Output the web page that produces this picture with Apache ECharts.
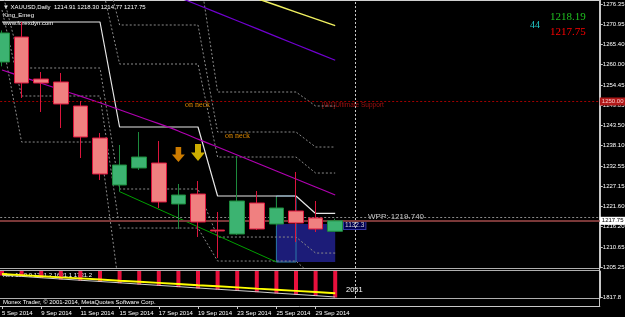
<!DOCTYPE html>
<html><head><meta charset="utf-8">
<script src="https://cdn.jsdelivr.net/npm/echarts@6/dist/echarts.min.js"></script>
<style>html,body{margin:0;padding:0;background:#000;}#c{width:625px;height:317px;}</style>
</head><body><div id="c"></div>
<script>
// ---- data ----
const dates = ['5 Sep 2014','8 Sep 2014','9 Sep 2014','10 Sep 2014','11 Sep 2014','12 Sep 2014','15 Sep 2014','16 Sep 2014','17 Sep 2014','18 Sep 2014','19 Sep 2014','22 Sep 2014','23 Sep 2014','24 Sep 2014','25 Sep 2014','26 Sep 2014','29 Sep 2014','30 Sep 2014'];
const futureSlots = 13;
const opens  = [1260.67,1267.43,1256.08,1255.27,1248.78,1240.13,1227.43,1232.02,1233.37,1222.29,1224.99,1215.26,1214.18,1222.56,1216.88,1220.40,1218.51,1214.91];
const closes = [1268.51,1254.99,1254.99,1249.32,1240.40,1230.40,1232.83,1234.99,1222.83,1224.72,1217.42,1214.99,1223.10,1215.53,1221.21,1217.16,1215.53,1217.75];
const lows   = [1259.50,1250.94,1247.16,1242.83,1234.72,1228.78,1225.63,1231.48,1221.21,1215.53,1213.37,1207.70,1213.91,1215.26,1216.35,1212.02,1214.72,1214.77];
const highs  = [1269.20,1271.48,1257.97,1257.70,1250.13,1241.48,1238.24,1241.75,1239.32,1227.70,1228.51,1220.13,1235.26,1225.80,1224.18,1230.94,1223.10,1218.30];
const priceTicks = [1205.25,1210.65,1216.20,1221.60,1227.15,1232.55,1238.10,1243.50,1249.05,1254.45,1260.00,1265.40,1270.95,1276.35];
// weekly pivot levels per bar
const pivotP  = [1271.48,1271.48,1271.48,1271.48,1271.48,1271.48,1243.10,1243.10,1243.10,1243.10,1243.10,1224.45,1224.45,1224.45,1224.45,1224.45,1219.74,1219.74];
const pivotR1 = [null,1283.92,1283.92,1283.92,1283.92,1283.92,1260.13,1260.13,1260.13,1260.13,1260.13,1234.99,1234.99,1234.99,1234.99,1234.99,1230.66,1230.66];
const pivotR2 = [null,1291.49,1291.49,1291.49,1291.49,1291.49,1270.67,1270.67,1270.67,1270.67,1270.67,1241.75,1241.75,1241.75,1241.75,1241.75,1237.69,1237.69];
const pivotR3 = [null,1303.92,1303.92,1303.92,1303.92,1303.92,1287.70,1287.70,1287.70,1287.70,1287.70,1252.56,1252.56,1252.56,1252.56,1252.56,1248.78,1248.78];
const pivotS1 = [1279.86,1259.05,1259.05,1259.05,1259.05,1259.05,1226.34,1226.34,1226.34,1226.34,1226.34,1213.36,1213.36,1213.36,1213.36,1213.36,1209.03,1209.03];
const pivotS2 = [1274.73,1251.48,1251.48,1251.48,1251.48,1251.48,1215.79,1215.79,1215.79,1215.79,1215.79,1206.87,1206.87,1206.87,1206.87,1206.87,1202.01,1202.01];
const pivotS3 = [1266.89,1239.04,1239.04,1239.04,1239.04,1239.04,1198.49,1198.49,1198.49,1198.49,1198.49,1196.87,1196.87,1196.87,1196.87,1196.87,1190.92,1190.92];
const maMagenta = [1258.51,1256.73,1254.94,1253.16,1251.43,1249.65,1247.76,1245.87,1244.00,1242.03,1239.81,1237.71,1235.54,1233.38,1231.22,1229.06,1226.90,1224.74];
const linePurple = [null,null,null,null,null,null,null,null,null,1278.20,1276.08,1273.94,1271.81,1269.68,1267.54,1265.40,1263.27,1261.13];
const lineYellow = [null,null,null,null,null,null,null,null,null,null,null,null,null,1277.84,1276.00,1274.16,1272.32,1270.50];
const trendGreen = [null,null,null,null,null,null,1225.63,null,null,null,null,null,null,null,1206.60,null,null,null];
const boxZone = [[14,17,1216.88,1206.60]];
const boxOutline = [[14,15,1224.45,1206.60]];
const arrowOrange = [[9,1235.66]];
const arrowYellow = [[10,1236.20]];
const ultimateSupport = 1250.00;
const bidPrice = 1217.75;
const askLine = 1218.60;
const separatorBar = 18;
// indicator sub-window
const subYellow = [2750,2705,2660,2615,2575,2530,2480,2440,2395,2350,2300,2260,2215,2165,2120,2075,2030,1978];
const subWhite  = [2706,2655,2600,2550,2500,2450,2400,2345,2295,2245,2190,2140,2090,2040,1985,1935,1885,1830];
const subHist   = [2690,2640,2590,2530,2480,2430,2380,2330,2270,2220,2170,2120,2070,2020,1970,1920,1870,1810];
const subTicks = [1817.8];
const subMin = 1790, subMax = 2870;

// ---- build ----
const cats = dates.concat(Array(futureSlots).fill(''));
const candles = opens.map((o,i)=>[o, closes[i], lows[i], highs[i]]);
const FONT = 'Liberation Sans';
const dotted = (c)=>({color:c, width:1, type:[2,2]});
function pivotSeries(data){
  return {type:'line', xAxisIndex:0, yAxisIndex:0, data, symbol:'none', silent:true, z:3,
    lineStyle: dotted('#8a8a8a'), connectNulls:false, animation:false};
}
const rectRender = (fill, stroke) => (params, api) => {
  const p1 = api.coord([api.value(0), api.value(2)]);
  const p2 = api.coord([api.value(1), api.value(3)]);
  return {type:'rect', shape:{x:p1[0], y:p1[1], width:p2[0]-p1[0], height:p2[1]-p1[1]},
    style:{fill: fill, stroke: stroke, lineWidth: 1}};
};
const showDate = (i, v) => v !== '' && i % 2 === 0;
const chart = echarts.init(document.getElementById('c'), null, {renderer:'canvas'});
const txt = (x,y,t,o)=>Object.assign({type:'text', x, y, silent:true,
  style:Object.assign({text:t, fill:'#ffffff', font:'6px '+FONT, verticalAlign:'middle'}, o||{})});
const ln = (x1,y1,x2,y2,c)=>({type:'line', silent:true, shape:{x1,y1,x2,y2}, style:{stroke:c, lineWidth:1}});
chart.setOption({
  backgroundColor:'#000000',
  animation:false,
  grid:[
    {left:-7.8, right:25.2, top:0, height:268, containLabel:false, outerBoundsMode:'none'},
    {left:-7.8, right:25.2, top:271, height:27, containLabel:false, outerBoundsMode:'none'}
  ],
  xAxis:[
    {type:'category', gridIndex:0, data:cats, boundaryGap:true, show:false},
    {type:'category', gridIndex:1, data:cats, boundaryGap:true, offset:8,
      axisLine:{show:true, lineStyle:{color:'#c8c8c8'}},
      axisTick:{show:true, alignWithLabel:true, interval:showDate, length:3, inside:false, lineStyle:{color:'#c8c8c8'}},
      axisLabel:{interval:showDate, align:'left', margin:4, color:'#ffffff', fontSize:6, fontFamily:FONT}}
  ],
  yAxis:[
    {type:'value', gridIndex:0, position:'right', min:1204.99, max:1277.43, scale:true,
      splitLine:{show:false},
      axisLine:{show:true, lineStyle:{color:'#c8c8c8'}},
      axisTick:{show:true, customValues:priceTicks, length:3, lineStyle:{color:'#c8c8c8'}},
      axisLabel:{customValues:priceTicks, formatter:v=>v.toFixed(2), color:'#ffffff', fontSize:6, fontFamily:FONT, margin:3}},
    {type:'value', gridIndex:1, position:'right', min:subMin, max:subMax, scale:true,
      splitLine:{show:false},
      axisLine:{show:true, lineStyle:{color:'#c8c8c8'}},
      axisTick:{show:true, customValues:subTicks, length:3, lineStyle:{color:'#c8c8c8'}},
      axisLabel:{customValues:subTicks, formatter:v=>v.toFixed(1), color:'#ffffff', fontSize:6, fontFamily:FONT, margin:3}}
  ],
  series:[
    {type:'custom', xAxisIndex:0, yAxisIndex:0, data:boxZone, renderItem:rectRender('#1c1c78', null), z:1, silent:true},
    {type:'custom', xAxisIndex:0, yAxisIndex:0, data:boxOutline, renderItem:rectRender('none', '#2a78a8'), z:2, silent:true},
    pivotSeries(pivotR3), pivotSeries(pivotR2), pivotSeries(pivotR1),
    pivotSeries(pivotS1), pivotSeries(pivotS2), pivotSeries(pivotS3),
    {type:'line', xAxisIndex:0, yAxisIndex:0, data:pivotP, symbol:'none', silent:true, z:4, lineStyle:{color:'#e6e6e6', width:1.2}},
    {type:'line', xAxisIndex:0, yAxisIndex:0, data:maMagenta, symbol:'none', silent:true, z:4, smooth:0.2, lineStyle:{color:'#b000b0', width:1.2}},
    {type:'line', xAxisIndex:0, yAxisIndex:0, data:linePurple, symbol:'none', silent:true, z:4, lineStyle:{color:'#7000d0', width:1.2}},
    {type:'line', xAxisIndex:0, yAxisIndex:0, data:lineYellow, symbol:'none', silent:true, z:4, lineStyle:{color:'#f0f060', width:1.5}},
    {type:'line', xAxisIndex:0, yAxisIndex:0, data:trendGreen, connectNulls:true, symbol:'none', silent:true, z:4, lineStyle:{color:'#00a000', width:1}},
    {type:'candlestick', xAxisIndex:0, yAxisIndex:0, data:candles, barWidth:15, z:6, silent:true,
      itemStyle:{color:'#3cb371', color0:'#f08080', borderColor:'#1c8a3c', borderColor0:'#dc143c', borderWidth:1},
      markLine:{silent:true, symbol:'none', animation:false, data:[
        {yAxis:ultimateSupport, lineStyle:{color:'#a00000', width:1, type:[2,2]},
          label:{show:true, position:'end', distance:0, formatter:'1250.00', backgroundColor:'#b01818', color:'#ffc8c8', fontSize:6, fontFamily:FONT, padding:[1,2]}},
        {yAxis:askLine, lineStyle:{color:'#8a8a8a', width:1, type:[2,2]}, label:{show:false}},
        {yAxis:bidPrice, lineStyle:{color:'#7a3838', width:2, type:'solid'},
          label:{show:true, position:'end', distance:0, formatter:'1217.75', backgroundColor:'#ffffff', color:'#000000', fontSize:6, fontFamily:FONT, padding:[1,2]}},
        {xAxis:separatorBar, lineStyle:{color:'#c8c8c8', width:1, type:[2,2]}, label:{show:false}}
      ]}},
    {type:'scatter', xAxisIndex:0, yAxisIndex:0, data:arrowOrange, symbol:'path://M4,0 L10,0 L10,8 L14,8 L7,16 L0,8 L4,8 Z', symbolSize:[13,15], itemStyle:{color:'#ff9a00'}, z:7, silent:true},
    {type:'scatter', xAxisIndex:0, yAxisIndex:0, data:arrowYellow, symbol:'path://M4,0 L10,0 L10,8 L14,8 L7,16 L0,8 L4,8 Z', symbolSize:[14,17], itemStyle:{color:'#ffd800'}, z:7, silent:true},
    // sub window
    {type:'bar', xAxisIndex:1, yAxisIndex:1, data:subHist, stack:'h', barWidth:4, itemStyle:{color:'rgba(0,0,0,0)'}, silent:true},
    {type:'bar', xAxisIndex:1, yAxisIndex:1, data:subHist.map(v=>subMax - v), stack:'h', barWidth:4, itemStyle:{color:'#e8103c'}, silent:true,
      markLine:{silent:true, symbol:'none', data:[{xAxis:separatorBar, lineStyle:{color:'#c8c8c8', width:1, type:[2,2]}, label:{show:false}}]}},
    {type:'line', xAxisIndex:1, yAxisIndex:1, data:subWhite, symbol:'none', silent:true, z:4, lineStyle:{color:'#d0d0d0', width:1}},
    {type:'line', xAxisIndex:1, yAxisIndex:1, data:subYellow, symbol:'none', silent:true, z:5, lineStyle:{color:'#ffff00', width:2}}
  ],
  graphic:[
    ln(0,0.5,600,0.5,'#d0d0d0'),
    ln(0,268.5,600,268.5,'#b0b0b0'),
    ln(0,270.5,600,270.5,'#b0b0b0'),
    ln(0,298.5,600,298.5,'#b0b0b0'),
    ln(599.5,0,599.5,306,'#c8c8c8'),
    txt(3,7,'\u25BC XAUUSD,Daily  1214.91 1218.30 1214.77 1217.75'),
    txt(3,15,'King_Emeg'),
    txt(3,23,'www.forexdyn.com'),
    txt(185,105,'on neck',{fill:'#e08a00', font:'8px Liberation Serif'}),
    txt(225,136,'on neck',{fill:'#e08a00', font:'8px Liberation Serif'}),
    txt(322,105,'[W1]Ultimate Support',{fill:'#a01010', font:'6.5px '+FONT}),
    txt(368,217,'WPP: 1219.740',{fill:'#c8c8c8', font:'8px '+FONT}),
    txt(344,225.5,'1132.3',{fill:'#d0d0d0', font:'6.5px '+FONT, backgroundColor:'#000050', borderColor:'#3838a0', borderWidth:1, padding:[0,1]}),
    txt(530,25.5,'44',{fill:'#20c8c8', font:'10px Liberation Serif'}),
    txt(550,17,'1218.19',{fill:'#20c020', font:'11px Liberation Serif'}),
    txt(550,32.5,'1217.75',{fill:'#ff0000', font:'11px Liberation Serif'}),
    txt(3,275,'Rev 10 0.0 1731.2 1631.1 1731.2'),
    txt(346,290,'2051',{font:'7.5px '+FONT}),
    txt(3,302.5,'Monex Trader, \u00A9 2001-2014, MetaQuotes Software Corp.')
  ]
});
</script></body></html>
